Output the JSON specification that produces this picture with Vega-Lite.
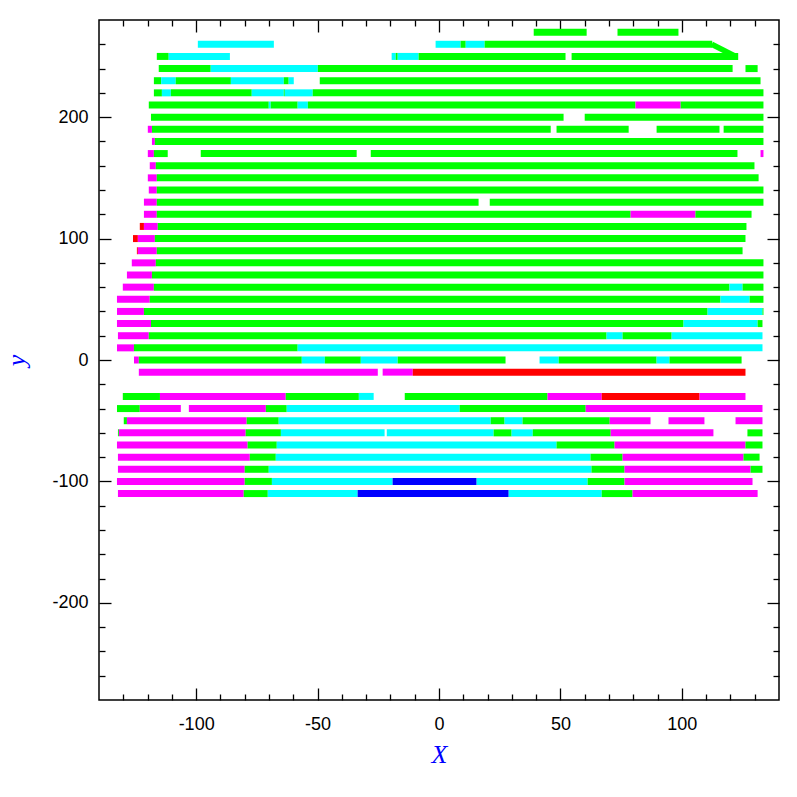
{
  "$schema": "https://vega.github.io/schema/vega-lite/v6.json",
  "width": 680,
  "height": 680,
  "autosize": {"type": "none"},
  "padding": {"left": 99, "top": 20, "right": 18, "bottom": 97},
  "background": "white",
  "config": {"view": {"stroke": "black", "strokeWidth": 1.5}},
  "datasets": {
    "bars": [
        {"y":270,"x1":39.0,"x2":60.8,"k":"G"},{"y":270,"x1":73.5,"x2":98.6,"k":"G"},
        {"y":260,"x1":-99.3,"x2":-68.0,"k":"C"},{"y":260,"x1":-1.4,"x2":8.9,"k":"C"},{"y":260,"x1":8.9,"x2":11.0,"k":"G"},{"y":260,"x1":11.0,"x2":18.8,"k":"C"},{"y":260,"x1":18.8,"x2":112.5,"k":"G"},
        {"y":250,"x1":-116.2,"x2":-111.3,"k":"G"},{"y":250,"x1":-111.3,"x2":-86.1,"k":"C"},{"y":250,"x1":-19.5,"x2":-17.8,"k":"C"},{"y":250,"x1":-17.8,"x2":-17.0,"k":"G"},{"y":250,"x1":-17.0,"x2":-8.4,"k":"C"},{"y":250,"x1":-8.4,"x2":52.1,"k":"G"},{"y":250,"x1":54.6,"x2":123.2,"k":"G"},
        {"y":240,"x1":-115.4,"x2":-94.0,"k":"G"},{"y":240,"x1":-94.0,"x2":-49.9,"k":"C"},{"y":240,"x1":-49.9,"x2":120.9,"k":"G"},{"y":240,"x1":126.2,"x2":131.2,"k":"G"},
        {"y":230,"x1":-117.4,"x2":-114.4,"k":"G"},{"y":230,"x1":-114.4,"x2":-108.4,"k":"C"},{"y":230,"x1":-108.4,"x2":-85.7,"k":"G"},{"y":230,"x1":-85.7,"x2":-63.9,"k":"C"},{"y":230,"x1":-63.9,"x2":-61.9,"k":"G"},{"y":230,"x1":-61.9,"x2":-59.8,"k":"C"},{"y":230,"x1":-49.1,"x2":132.4,"k":"G"},
        {"y":220,"x1":-117.4,"x2":-114.1,"k":"G"},{"y":220,"x1":-114.1,"x2":-110.4,"k":"C"},{"y":220,"x1":-110.4,"x2":-77.1,"k":"G"},{"y":220,"x1":-77.1,"x2":-63.9,"k":"C"},{"y":220,"x1":-63.9,"x2":-63.5,"k":"G"},{"y":220,"x1":-63.5,"x2":-52.0,"k":"C"},{"y":220,"x1":-52.0,"x2":133.6,"k":"G"},
        {"y":210,"x1":-119.5,"x2":-70.1,"k":"G"},{"y":210,"x1":-70.1,"x2":-69.3,"k":"C"},{"y":210,"x1":-69.3,"x2":-58.2,"k":"G"},{"y":210,"x1":-58.2,"x2":-54.0,"k":"C"},{"y":210,"x1":-54.0,"x2":80.9,"k":"G"},{"y":210,"x1":80.9,"x2":99.5,"k":"M"},{"y":210,"x1":99.5,"x2":133.6,"k":"G"},
        {"y":200,"x1":-118.6,"x2":51.3,"k":"G"},{"y":200,"x1":60.0,"x2":133.6,"k":"G"},
        {"y":190,"x1":-119.9,"x2":-118.2,"k":"M"},{"y":190,"x1":-118.2,"x2":46.0,"k":"G"},{"y":190,"x1":48.4,"x2":78.1,"k":"G"},{"y":190,"x1":89.6,"x2":115.5,"k":"G"},{"y":190,"x1":117.2,"x2":133.6,"k":"G"},
        {"y":180,"x1":-118.2,"x2":-117.0,"k":"M"},{"y":180,"x1":-117.0,"x2":133.6,"k":"G"},
        {"y":170,"x1":-119.9,"x2":-117.4,"k":"M"},{"y":170,"x1":-117.4,"x2":-111.7,"k":"G"},{"y":170,"x1":-98.1,"x2":-33.9,"k":"G"},{"y":170,"x1":-28.1,"x2":122.9,"k":"G"},{"y":170,"x1":132.4,"x2":133.6,"k":"M"},
        {"y":160,"x1":-119.1,"x2":-116.6,"k":"M"},{"y":160,"x1":-116.6,"x2":129.9,"k":"G"},
        {"y":150,"x1":-119.9,"x2":-116.2,"k":"M"},{"y":150,"x1":-116.2,"x2":131.6,"k":"G"},
        {"y":140,"x1":-119.5,"x2":-116.2,"k":"M"},{"y":140,"x1":-116.2,"x2":133.6,"k":"G"},
        {"y":130,"x1":-121.5,"x2":-116.2,"k":"M"},{"y":130,"x1":-116.2,"x2":16.3,"k":"G"},{"y":130,"x1":20.9,"x2":133.6,"k":"G"},
        {"y":120,"x1":-121.5,"x2":-116.2,"k":"M"},{"y":120,"x1":-116.2,"x2":78.9,"k":"G"},{"y":120,"x1":78.9,"x2":105.6,"k":"M"},{"y":120,"x1":105.6,"x2":128.7,"k":"G"},
        {"y":110,"x1":-123.2,"x2":-121.5,"k":"R"},{"y":110,"x1":-121.5,"x2":-115.8,"k":"M"},{"y":110,"x1":-115.8,"x2":126.6,"k":"G"},
        {"y":100,"x1":-126.0,"x2":-124.0,"k":"R"},{"y":100,"x1":-124.0,"x2":-117.0,"k":"M"},{"y":100,"x1":-117.0,"x2":126.2,"k":"G"},
        {"y":90,"x1":-124.4,"x2":-124.0,"k":"R"},{"y":90,"x1":-124.0,"x2":-116.2,"k":"M"},{"y":90,"x1":-116.2,"x2":125.0,"k":"G"},
        {"y":80,"x1":-126.5,"x2":-116.6,"k":"M"},{"y":80,"x1":-116.6,"x2":133.6,"k":"G"},
        {"y":70,"x1":-128.5,"x2":-118.2,"k":"M"},{"y":70,"x1":-118.2,"x2":133.6,"k":"G"},
        {"y":60,"x1":-130.2,"x2":-117.4,"k":"M"},{"y":60,"x1":-117.4,"x2":119.6,"k":"G"},{"y":60,"x1":119.6,"x2":125.0,"k":"C"},{"y":60,"x1":125.0,"x2":133.6,"k":"G"},
        {"y":50,"x1":-132.6,"x2":-119.1,"k":"M"},{"y":50,"x1":-119.1,"x2":115.9,"k":"G"},{"y":50,"x1":115.9,"x2":127.9,"k":"C"},{"y":50,"x1":127.9,"x2":133.6,"k":"G"},
        {"y":40,"x1":-132.6,"x2":-121.5,"k":"M"},{"y":40,"x1":-121.5,"x2":110.6,"k":"G"},{"y":40,"x1":110.6,"x2":133.2,"k":"C"},{"y":40,"x1":133.2,"x2":133.6,"k":"G"},
        {"y":30,"x1":-132.6,"x2":-118.6,"k":"M"},{"y":30,"x1":-118.6,"x2":100.7,"k":"G"},{"y":30,"x1":100.7,"x2":131.2,"k":"C"},{"y":30,"x1":131.2,"x2":133.2,"k":"G"},
        {"y":20,"x1":-132.2,"x2":-119.5,"k":"M"},{"y":20,"x1":-119.5,"x2":69.0,"k":"G"},{"y":20,"x1":69.0,"x2":75.6,"k":"C"},{"y":20,"x1":75.6,"x2":95.8,"k":"G"},{"y":20,"x1":95.8,"x2":133.2,"k":"C"},
        {"y":10,"x1":-132.6,"x2":-125.6,"k":"M"},{"y":10,"x1":-125.6,"x2":-58.2,"k":"G"},{"y":10,"x1":-58.2,"x2":133.2,"k":"C"},
        {"y":0,"x1":-125.6,"x2":-123.6,"k":"M"},{"y":0,"x1":-123.6,"x2":-56.5,"k":"G"},{"y":0,"x1":-56.5,"x2":-47.0,"k":"C"},{"y":0,"x1":-47.0,"x2":-32.2,"k":"G"},{"y":0,"x1":-32.2,"x2":-17.0,"k":"C"},{"y":0,"x1":-17.0,"x2":27.4,"k":"G"},{"y":0,"x1":41.4,"x2":49.3,"k":"C"},{"y":0,"x1":49.3,"x2":89.6,"k":"G"},{"y":0,"x1":89.6,"x2":94.9,"k":"C"},{"y":0,"x1":94.9,"x2":124.6,"k":"G"},
        {"y":-10,"x1":-123.6,"x2":-25.2,"k":"M"},{"y":-10,"x1":-23.2,"x2":-10.8,"k":"M"},{"y":-10,"x1":-10.8,"x2":126.2,"k":"R"},
        {"y":-30,"x1":-130.2,"x2":-114.9,"k":"G"},{"y":-30,"x1":-114.9,"x2":-63.1,"k":"M"},{"y":-30,"x1":-63.1,"x2":-33.0,"k":"G"},{"y":-30,"x1":-33.0,"x2":-26.9,"k":"C"},{"y":-30,"x1":-14.1,"x2":44.7,"k":"G"},{"y":-30,"x1":44.7,"x2":67.0,"k":"M"},{"y":-30,"x1":67.0,"x2":107.3,"k":"R"},{"y":-30,"x1":107.3,"x2":126.2,"k":"M"},
        {"y":-40,"x1":-132.6,"x2":-123.2,"k":"G"},{"y":-40,"x1":-123.2,"x2":-106.3,"k":"M"},{"y":-40,"x1":-103.0,"x2":-71.3,"k":"M"},{"y":-40,"x1":-71.3,"x2":-62.7,"k":"G"},{"y":-40,"x1":-62.7,"x2":8.5,"k":"C"},{"y":-40,"x1":8.5,"x2":60.4,"k":"G"},{"y":-40,"x1":60.4,"x2":133.2,"k":"M"},
        {"y":-50,"x1":-129.8,"x2":-128.5,"k":"G"},{"y":-50,"x1":-128.5,"x2":-79.2,"k":"M"},{"y":-50,"x1":-79.2,"x2":-66.0,"k":"G"},{"y":-50,"x1":-66.0,"x2":21.3,"k":"C"},{"y":-50,"x1":21.3,"x2":27.0,"k":"G"},{"y":-50,"x1":27.0,"x2":34.4,"k":"C"},{"y":-50,"x1":34.4,"x2":70.3,"k":"G"},{"y":-50,"x1":70.3,"x2":87.1,"k":"M"},{"y":-50,"x1":94.5,"x2":109.3,"k":"M"},{"y":-50,"x1":122.1,"x2":133.2,"k":"M"},
        {"y":-60,"x1":-132.2,"x2":-131.8,"k":"G"},{"y":-60,"x1":-131.8,"x2":-79.6,"k":"M"},{"y":-60,"x1":-79.6,"x2":-65.1,"k":"G"},{"y":-60,"x1":-65.1,"x2":-22.4,"k":"C"},{"y":-60,"x1":-21.5,"x2":22.5,"k":"C"},{"y":-60,"x1":22.5,"x2":29.9,"k":"G"},{"y":-60,"x1":29.9,"x2":38.6,"k":"C"},{"y":-60,"x1":38.6,"x2":70.7,"k":"G"},{"y":-60,"x1":70.7,"x2":113.0,"k":"M"},{"y":-60,"x1":127.0,"x2":133.2,"k":"G"},
        {"y":-70,"x1":-132.6,"x2":-78.8,"k":"M"},{"y":-70,"x1":-78.8,"x2":-66.8,"k":"G"},{"y":-70,"x1":-66.8,"x2":48.4,"k":"C"},{"y":-70,"x1":48.4,"x2":72.3,"k":"G"},{"y":-70,"x1":72.3,"x2":126.2,"k":"M"},{"y":-70,"x1":126.2,"x2":133.2,"k":"G"},
        {"y":-80,"x1":-132.2,"x2":-77.9,"k":"M"},{"y":-80,"x1":-77.9,"x2":-67.2,"k":"G"},{"y":-80,"x1":-67.2,"x2":62.4,"k":"C"},{"y":-80,"x1":62.4,"x2":75.6,"k":"G"},{"y":-80,"x1":75.6,"x2":125.4,"k":"M"},{"y":-80,"x1":125.4,"x2":132.0,"k":"G"},
        {"y":-90,"x1":-132.2,"x2":-80.0,"k":"M"},{"y":-90,"x1":-80.0,"x2":-70.1,"k":"G"},{"y":-90,"x1":-70.1,"x2":62.8,"k":"C"},{"y":-90,"x1":62.8,"x2":76.4,"k":"G"},{"y":-90,"x1":76.4,"x2":128.3,"k":"M"},{"y":-90,"x1":128.3,"x2":133.2,"k":"G"},
        {"y":-100,"x1":-132.6,"x2":-80.0,"k":"M"},{"y":-100,"x1":-80.0,"x2":-68.8,"k":"G"},{"y":-100,"x1":-68.8,"x2":-19.1,"k":"C"},{"y":-100,"x1":-19.1,"x2":15.5,"k":"B"},{"y":-100,"x1":15.5,"x2":61.2,"k":"C"},{"y":-100,"x1":61.2,"x2":76.4,"k":"G"},{"y":-100,"x1":76.4,"x2":129.1,"k":"M"},
        {"y":-110,"x1":-132.2,"x2":-80.4,"k":"M"},{"y":-110,"x1":-80.4,"x2":-70.5,"k":"G"},{"y":-110,"x1":-70.5,"x2":-33.5,"k":"C"},{"y":-110,"x1":-33.5,"x2":28.7,"k":"B"},{"y":-110,"x1":28.7,"x2":67.0,"k":"C"},{"y":-110,"x1":67.0,"x2":79.7,"k":"G"},{"y":-110,"x1":79.7,"x2":131.2,"k":"M"}
    ],
    "link": [{"x": 112.3, "y": 260}, {"x": 121.6, "y": 250.5}]
  },
  "layer": [
    {
      "data": {"name": "bars"},
      "transform": [{"filter": "datum.y >= 100"}],
      "mark": {"type": "rule", "strokeWidth": 7, "strokeCap": "butt"},
      "encoding": {
        "x": {
          "field": "x1", "type": "quantitative",
          "scale": {"domain": [-140, 140], "nice": false, "zero": false},
          "axis": {
            "orient": "bottom", "values": [-100, -50, 0, 50, 100], "tickSize": -12,
            "labelExpr": "'' + datum.value",
            "labelOverlap": false, "labelFlush": false, "labelBound": false,
            "domain": false, "grid": false, "tickColor": "black", "tickWidth": 1.3,
            "labelFont": "Liberation Sans", "labelFontSize": 18, "labelColor": "black", "labelPadding": 27,
            "title": "X", "titleFont": "Liberation Serif", "titleFontStyle": "italic", "titleFontWeight": "normal",
            "titleFontSize": 26, "titleColor": "#0000ff", "titlePadding": 8
          }
        },
        "x2": {"field": "x2"},
        "y": {
          "field": "y", "type": "quantitative",
          "scale": {"domain": [-280, 280], "nice": false, "zero": false},
          "axis": {
            "orient": "left", "values": [-200, -100, 0, 100, 200], "tickSize": -12,
            "labelExpr": "'' + datum.value",
            "labelOverlap": false, "labelFlush": false, "labelBound": false,
            "domain": false, "grid": false, "tickColor": "black", "tickWidth": 1.3,
            "labelFont": "Liberation Sans", "labelFontSize": 18, "labelColor": "black", "labelPadding": 23,
            "title": "y", "titleFont": "Liberation Serif", "titleFontStyle": "italic", "titleFontWeight": "normal",
            "titleFontSize": 26, "titleColor": "#0000ff", "titlePadding": 22
          }
        },
        "color": {
          "field": "k", "type": "nominal",
          "scale": {"domain": ["G","C","M","R","B"], "range": ["#00ff00","#00ffff","#ff00ff","#ff0000","#0000ff"]},
          "legend": null
        }
      }
    },
    {
      "data": {"name": "bars"},
      "transform": [{"filter": "datum.y >= 0 && datum.y < 100"}],
      "mark": {"type": "rule", "strokeWidth": 7, "strokeCap": "butt"},
      "encoding": {
        "x": {
          "field": "x1", "type": "quantitative",
          "scale": {"domain": [-140, 140], "nice": false, "zero": false},
          "axis": {
            "orient": "bottom",
            "values": [-130,-120,-110,-90,-80,-70,-60,-40,-30,-20,-10,10,20,30,40,60,70,80,90,110,120,130],
            "tickSize": -6, "labels": false, "domain": false, "grid": false, "title": null,
            "tickColor": "black", "tickWidth": 1.3
          }
        },
        "x2": {"field": "x2"},
        "y": {
          "field": "y", "type": "quantitative",
          "scale": {"domain": [-280, 280], "nice": false, "zero": false},
          "axis": {
            "orient": "left",
            "values": [-260,-240,-220,-180,-160,-140,-120,-80,-60,-40,-20,20,40,60,80,120,140,160,180,220,240,260],
            "tickSize": -6, "labels": false, "domain": false, "grid": false, "title": null,
            "tickColor": "black", "tickWidth": 1.3
          }
        },
        "color": {"field": "k", "type": "nominal", "legend": null}
      }
    },
    {
      "data": {"name": "bars"},
      "transform": [{"filter": "datum.y < 0"}],
      "mark": {"type": "rule", "strokeWidth": 7, "strokeCap": "butt"},
      "encoding": {
        "x": {
          "field": "x1", "type": "quantitative",
          "scale": {"domain": [-140, 140], "nice": false, "zero": false},
          "axis": {
            "orient": "top", "values": [-100, -50, 0, 50, 100],
            "tickSize": -12, "labels": false, "domain": false, "grid": false, "title": null,
            "tickColor": "black", "tickWidth": 1.3
          }
        },
        "x2": {"field": "x2"},
        "y": {
          "field": "y", "type": "quantitative",
          "scale": {"domain": [-280, 280], "nice": false, "zero": false},
          "axis": {
            "orient": "right", "values": [-200, -100, 0, 100, 200],
            "tickSize": -12, "labels": false, "domain": false, "grid": false, "title": null,
            "tickColor": "black", "tickWidth": 1.3
          }
        },
        "color": {"field": "k", "type": "nominal", "legend": null}
      }
    },
    {
      "data": {"name": "link"},
      "mark": {"type": "line", "strokeWidth": 5.5, "strokeCap": "butt", "color": "#00ff00"},
      "encoding": {
        "x": {
          "field": "x", "type": "quantitative",
          "scale": {"domain": [-140, 140], "nice": false, "zero": false},
          "axis": {
            "orient": "top",
            "values": [-130,-120,-110,-90,-80,-70,-60,-40,-30,-20,-10,10,20,30,40,60,70,80,90,110,120,130],
            "tickSize": -6, "labels": false, "domain": false, "grid": false, "title": null,
            "tickColor": "black", "tickWidth": 1.3
          }
        },
        "y": {
          "field": "y", "type": "quantitative",
          "scale": {"domain": [-280, 280], "nice": false, "zero": false},
          "axis": {
            "orient": "right",
            "values": [-260,-240,-220,-180,-160,-140,-120,-80,-60,-40,-20,20,40,60,80,120,140,160,180,220,240,260],
            "tickSize": -6, "labels": false, "domain": false, "grid": false, "title": null,
            "tickColor": "black", "tickWidth": 1.3
          }
        }
      }
    }
  ],
  "resolve": {"axis": {"x": "independent", "y": "independent"}}
}
